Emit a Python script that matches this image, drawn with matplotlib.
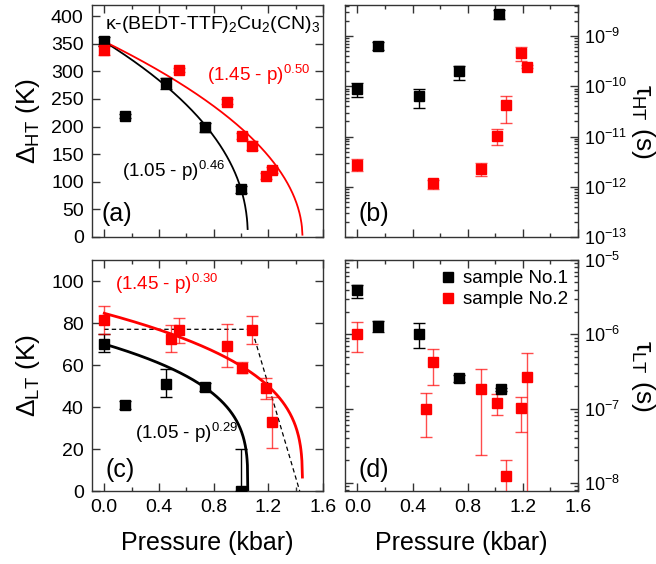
import numpy as np
import matplotlib as mpl
import matplotlib.pyplot as plt
from matplotlib.lines import Line2D
from matplotlib.ticker import MultipleLocator, FixedLocator, LogLocator, LogFormatterMathtext, NullFormatter

plt.rcParams['font.family'] = ['Liberation Sans', 'DejaVu Sans']
plt.rcParams['mathtext.fontset'] = 'custom'
plt.rcParams['mathtext.rm'] = 'Liberation Sans'
plt.rcParams['mathtext.it'] = 'Liberation Sans:italic'
plt.rcParams['mathtext.default'] = 'rm'

# ---- data: (a) gap Delta_HT (K)
pA1 = [0.0, 0.15, 0.45, 0.74, 1.0]
dA1 = [354, 219, 278, 199, 86]
eA1 = [8, 4, 10, 8, 6]
pA2 = [0.0, 0.545, 0.90, 1.01, 1.078, 1.18, 1.23]
dA2 = [338, 302, 245, 183, 165, 110, 121]
eA2 = [8, 4, 4, 6, 8, 5, 5]

# ---- (b) tau_HT (s): value, lower, upper
pB1 = [0.0, 0.15, 0.45, 0.74, 1.03]
tB1 = [8.9e-11, 6.4e-10, 6.4e-11, 2.0e-10, 2.7e-9]
loB1 = [6.1e-11, 5.3e-10, 3.7e-11, 1.35e-10, 2.2e-9]
hiB1 = [1.15e-10, 7.7e-10, 8.9e-11, 2.6e-10, 3.3e-9]
pB2 = [0.0, 0.55, 0.898, 1.014, 1.08, 1.19, 1.23]
tB2 = [2.75e-12, 1.17e-12, 2.25e-12, 1.05e-11, 4.2e-11, 4.7e-10, 2.47e-10]
loB2 = [2.05e-12, 0.91e-12, 1.66e-12, 6.9e-12, 1.86e-11, 3.2e-10, 2.3e-10]
hiB2 = [3.55e-12, 1.35e-12, 2.95e-12, 1.41e-11, 6.5e-11, 6.2e-10, 2.65e-10]

# ---- (c) gap Delta_LT (K)
pC1 = [0.0, 0.15, 0.45, 0.74, 1.0]
dC1 = [70, 41, 51, 49.5, 0]
loC1 = [66, 39, 45, 47.5, 0]
hiC1 = [75, 43, 58, 51.5, 20]
pC2 = [0.0, 0.49, 0.545, 0.90, 1.01, 1.08, 1.18, 1.23]
dC2 = [81.5, 72.5, 76.5, 69, 58.5, 76.5, 49, 33]
loC2 = [75, 66, 70.5, 59, 56, 70, 44, 20.5]
hiC2 = [88, 79, 82.5, 79.5, 61.5, 83.5, 54, 45]
dash_p = [0.0, 1.08, 1.43]
dash_d = [77, 77, 0]

# ---- (d) tau_LT (s)
pD1 = [0.0, 0.15, 0.45, 0.74, 1.04]
tD1 = [3.9e-6, 1.29e-6, 1.02e-6, 2.57e-7, 1.83e-7]
loD1 = [3.1e-6, 1.07e-6, 6.6e-7, 2.3e-7, 1.75e-7]
hiD1 = [4.6e-6, 1.51e-6, 1.41e-6, 2.85e-7, 1.91e-7]
pD2 = [0.0, 0.497, 0.55, 0.898, 1.016, 1.08, 1.19, 1.23]
tD2 = [1.02e-6, 1.0e-7, 4.2e-7, 1.83e-7, 1.18e-7, 1.24e-8, 1.02e-7, 2.63e-7]
loD2 = [5.8e-7, 4.2e-8, 2.05e-7, 2.4e-8, 8.1e-8, 1e-9, 4.8e-8, 1e-9]
hiD2 = [1.48e-6, 1.6e-7, 6.3e-7, 3.4e-7, 1.55e-7, 2.0e-8, 1.45e-7, 5.6e-7]

# ---- power-law fits: A * (pc - p)^n, drawn up to pend
fitA1 = (346, 1.05, 0.46, 1.049)
fitA2 = (294, 1.45, 0.50, 1.4498)
fitC1 = (69, 1.05, 0.29, 1.05)
fitC2 = (75.7, 1.45, 0.30, 1.4497)

RED = '#ff0000'
BLK = '#000000'
RED_E = (1.0, 0.0, 0.0, 0.7)
TS = 14


def fit_curve(ax, prm, color, lw):
    A, pc, n, pend = prm
    p = np.linspace(0, pend, 400)
    ax.plot(p, A * np.clip(pc - p, 0, None) ** n, color=color, lw=lw, zorder=2)


def pts(ax, p, v, lo, hi, color, ecol):
    v = np.array(v)
    yerr = [v - np.array(lo), np.array(hi) - v]
    ax.errorbar(p, v, yerr=yerr, fmt='s', ms=6.5, color=color, ecolor=ecol,
                elinewidth=1.0, capsize=4.5, capthick=1.0, mec=color, zorder=3)


def style(ax, labelx=False):
    ax.set_xlim(-0.09, 1.6)
    ax.xaxis.set_major_locator(MultipleLocator(0.4))
    ax.xaxis.set_minor_locator(MultipleLocator(0.2))
    ax.tick_params(which='both', direction='in', top=True, right=True,
                   labelsize=TS, width=1.0, color='#333333')
    ax.tick_params(which='major', length=6, pad=6)
    ax.tick_params(which='minor', length=3)
    for s in ax.spines.values():
        s.set_linewidth(1.0)
        s.set_color('#333333')
    if labelx:
        ax.xaxis.set_major_formatter(mpl.ticker.FormatStrFormatter('%.1f'))
        ax.set_xlabel('Pressure (kbar)', fontsize=18)
        ax.xaxis.set_label_coords(0.5, -0.225)
        ax.xaxis.label.set_va('center')
    else:
        ax.tick_params(labelbottom=False)


def left_label(ax, txt):
    ax.set_ylabel(txt, fontsize=19)
    ax.yaxis.set_label_coords(-0.275, 0.5)
    ax.yaxis.label.set_va('center')


def right_label(ax, txt):
    # right-hand axis title, reading top to bottom
    ax.text(1.28, 0.5, txt, transform=ax.transAxes, fontsize=19, rotation=270,
            ha='center', va='center')


def log_axis(ax, lo, hi, majors):
    ax.set_ylim(lo, hi)
    ax.yaxis.set_major_locator(FixedLocator(majors))
    ax.yaxis.set_minor_locator(LogLocator(base=10, subs=np.arange(2, 10)))
    ax.yaxis.set_minor_formatter(NullFormatter())
    ax.yaxis.set_major_formatter(LogFormatterMathtext())
    ax.tick_params(axis='y', which='major', labelleft=False, labelright=True,
                   pad=4, labelsize=13)


fig = plt.figure(figsize=(6.56, 5.64), dpi=100)
axA = fig.add_axes([0.1402, 0.5798, 0.3521, 0.4113])
axB = fig.add_axes([0.5259, 0.5798, 0.3552, 0.4113])
axC = fig.add_axes([0.1402, 0.1294, 0.3521, 0.4096])
axD = fig.add_axes([0.5259, 0.1294, 0.3552, 0.4096])

# (a)
fit_curve(axA, fitA1, BLK, 1.3)
fit_curve(axA, fitA2, RED, 1.3)
pts(axA, pA1, dA1, np.array(dA1) - eA1, np.array(dA1) + eA1, BLK, BLK)
pts(axA, pA2, dA2, np.array(dA2) - eA2, np.array(dA2) + eA2, RED, RED_E)
style(axA)
axA.set_ylim(0, 420)
axA.yaxis.set_major_locator(MultipleLocator(50))
left_label(axA, r'$\Delta_{HT}$ (K)')
axA.text(0.055, 0.915, r'$\kappa$-(BEDT-TTF)$_2$Cu$_2$(CN)$_3$', transform=axA.transAxes,
         fontsize=14, va='center')
axA.text(0.50, 0.70, r'(1.45 - p)$^{0.50}$', transform=axA.transAxes, fontsize=13.5,
         color=RED, va='center')
axA.text(0.13, 0.285, r'(1.05 - p)$^{0.46}$', transform=axA.transAxes, fontsize=13.5,
         va='center')
axA.text(0.04, 0.10, '(a)', transform=axA.transAxes, fontsize=18, va='center')

# (b)
pts(axB, pB1, tB1, loB1, hiB1, BLK, BLK)
pts(axB, pB2, tB2, loB2, hiB2, RED, RED_E)
axB.set_yscale('log')
style(axB)
log_axis(axB, 1e-13, 10 ** -8.38, [1e-13, 1e-12, 1e-11, 1e-10, 1e-9])
right_label(axB, r'$\tau_{HT}$ (s)')
axB.text(0.06, 0.10, '(b)', transform=axB.transAxes, fontsize=18, va='center')

# (c)
axC.plot(dash_p, dash_d, color=BLK, lw=0.9, ls=(0, (3.5, 2.5)), zorder=2)
fit_curve(axC, fitC1, BLK, 2.0)
fit_curve(axC, fitC2, RED, 2.0)
pts(axC, pC1, dC1, loC1, hiC1, BLK, BLK)
pts(axC, pC2, dC2, loC2, hiC2, RED, RED_E)
style(axC, labelx=True)
axC.set_ylim(0, 110)
axC.yaxis.set_major_locator(MultipleLocator(20))
left_label(axC, r'$\Delta_{LT}$ (K)')
axC.text(0.10, 0.895, r'(1.45 - p)$^{0.30}$', transform=axC.transAxes, fontsize=13.5,
         color=RED, va='center')
axC.text(0.185, 0.25, r'(1.05 - p)$^{0.29}$', transform=axC.transAxes, fontsize=13.5,
         va='center')
axC.text(0.06, 0.09, '(c)', transform=axC.transAxes, fontsize=18, va='center')

# (d)
pts(axD, pD1, tD1, loD1, hiD1, BLK, BLK)
pts(axD, pD2, tD2, loD2, hiD2, RED, RED_E)
axD.set_yscale('log')
style(axD, labelx=True)
log_axis(axD, 10 ** -8.11, 1e-5, [1e-8, 1e-7, 1e-6, 1e-5])
right_label(axD, r'$\tau_{LT}$ (s)')
axD.text(0.06, 0.09, '(d)', transform=axD.transAxes, fontsize=18, va='center')
handles = [Line2D([], [], ls='none', marker='s', ms=6.5, color=BLK),
           Line2D([], [], ls='none', marker='s', ms=6.5, color=RED)]
axD.legend(handles, ['sample No.1', 'sample No.2'], loc='upper right', frameon=False,
           fontsize=13.5, handlelength=0.8, handletextpad=0.4, borderaxespad=0.15,
           labelspacing=0.2)

plt.savefig('out.png', dpi=100)
